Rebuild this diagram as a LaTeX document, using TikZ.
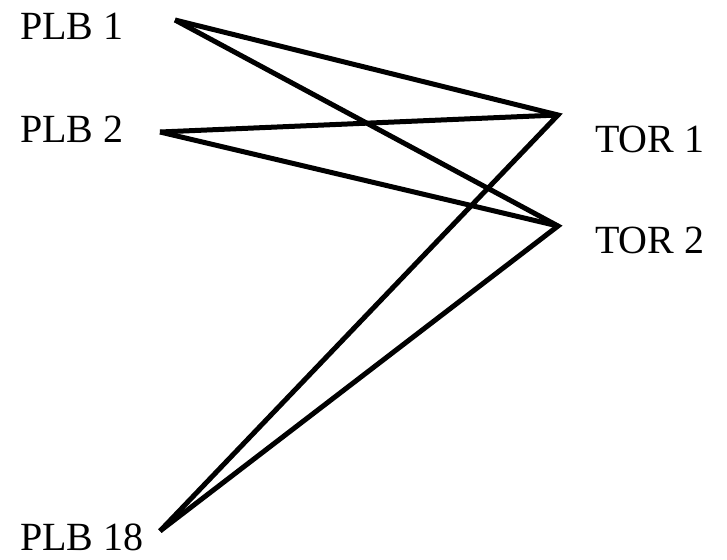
\documentclass[tikz,border=0pt]{standalone}
\usepackage{fontspec}
\setmainfont{Liberation Serif}
\begin{document}
\begin{tikzpicture}[x=1pt,y=-1pt,
  lbl/.style={anchor=base west,inner sep=0pt,font=\fontsize{40}{48}\selectfont},
  link/.style={line width=5pt,black,line join=miter}]
\useasboundingbox (0,0) rectangle (727,559);
% endpoints
\coordinate (p1) at (175,20);
\coordinate (p2) at (160,132);
\coordinate (p18) at (160,531);
\coordinate (t1) at (558,115);
\coordinate (t2) at (558,226);
% labels
\node[lbl] (lp1) at (20,40) {PLB 1};
\node[lbl] (lp2) at (20,142) {PLB 2};
\node[lbl] (lp18) at (20,550) {PLB 18};
\node[lbl] (lt1) at (595,152) {TOR 1};
\node[lbl] (lt2) at (595,253) {TOR 2};
% connectors
\draw[link] (p1) -- (t1) -- (p18);
\draw[link] (p1) -- (t2) -- (p18);
\draw[link] (p2) -- (t1);
\draw[link] (p2) -- (t2);
\end{tikzpicture}
\end{document}
